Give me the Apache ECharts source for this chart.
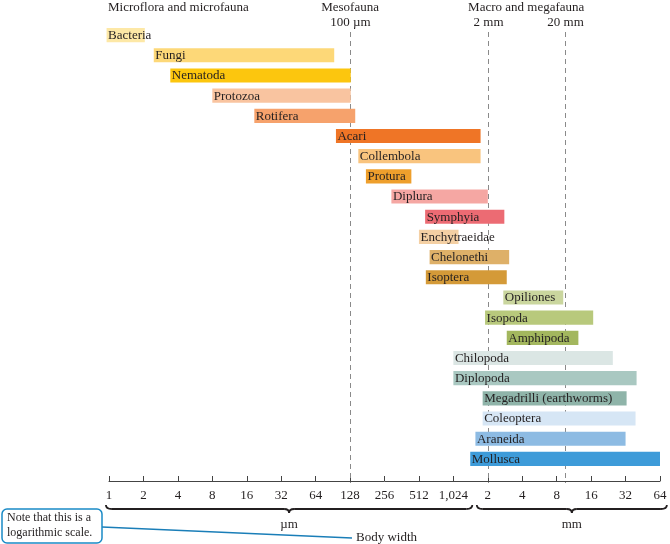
<!DOCTYPE html>
<html><head><meta charset="utf-8">
<script src="https://cdn.jsdelivr.net/npm/echarts@6/dist/echarts.min.js"></script>
<style>html,body{margin:0;padding:0;background:#fff}#c{width:670px;height:544px}</style>
</head><body><div id="c"></div>
<script>
// Taxa (rows, top to bottom)
const taxa = ['Bacteria','Fungi','Nematoda','Protozoa','Rotifera','Acari','Collembola','Protura','Diplura','Symphyia','Enchytraeidae','Chelonethi','Isoptera','Opiliones','Isopoda','Amphipoda','Chilopoda','Diplopoda','Megadrilli (earthworms)','Coleoptera','Araneida','Mollusca'];
// Body-width range, in tick-index units of the log2 scale (0 = 1 µm, 10 = 1,024 µm, 11 = 2 mm, 16 = 64 mm)
const widthFrom = [-0.07,1.30,1.78,3.00,4.22,6.59,7.24,7.46,8.20,9.18,9.00,9.31,9.20,11.45,10.92,11.55,10.00,10.00,10.85,10.85,10.64,10.49];
const widthTo   = [1.04,6.54,7.02,7.02,7.15,10.79,10.79,8.78,11.00,11.48,10.15,11.62,11.55,13.19,14.06,13.63,14.63,15.32,15.03,15.29,15.00,16.00];
// Axis tick labels
const tickLabels = ['1','2','4','8','16','32','64','128','256','512','1,024','2','4','8','16','32','64'];
// Reference lines (class boundaries)
const refValues = [7, 11, 13.23];
const refLabels = ['100 µm','2 mm','20 mm'];
// Bar colours
const colors = ['#fde8a6','#fdd878','#fcc60e','#f9c4a0','#f6a26c','#ef7526','#f9c47e','#ee9f2c','#f5a7a3','#ec6b73','#f4d0a4','#deb068','#d49a38','#cad69e','#b8c97c','#a3b75e','#dbe6e4','#a9c8c1','#8fb4a9','#d6e6f5','#8dbbe3','#3d9bd9'];

const FONT = '13px "Liberation Serif", "DejaVu Serif", serif';
const FONT_S = '12px "Liberation Serif", "DejaVu Serif", serif';
const TXT = '#231f20';

const barData = taxa.map((n,i)=>[i, widthFrom[i], widthTo[i], n]);
const refData = refValues.map((v,i)=>[v, refLabels[i]]);

const chart = echarts.init(document.getElementById('c'), null, {renderer:'canvas'});
chart.setOption({
  animation:false,
  grid:{left:109, right:10, top:25, height:444},
  xAxis:{type:'value', min:0, max:16, interval:1, offset:12,
    splitLine:{show:false},
    axisLine:{show:true, lineStyle:{color:'#444', width:1}},
    axisTick:{show:true, inside:true, length:5, lineStyle:{color:'#444'}},
    axisLabel:{margin:8, color:TXT, fontFamily:'"Liberation Serif", serif', fontSize:13,
      formatter:(v)=>tickLabels[Math.round(v)] ?? ''}
  },
  yAxis:{type:'category', inverse:true, data:taxa, show:false},
  series:[
    {type:'custom', z:1, data:refData, encode:{x:0},
      renderItem:(params, api)=>{
        const cs = params.coordSys;
        const x = Math.round(api.coord([api.value(0), 0])[0]) + 0.5;
        return {type:'group', children:[
          {type:'line', shape:{x1:x, y1:cs.y+7, x2:x, y2:cs.y+cs.height+14},
           style:{stroke:'#8a8a8a', lineWidth:1, lineDash:[5,4]}},
          {type:'text', style:{text:refData[params.dataIndex][1], x:x, y:cs.y-2,
            align:'center', verticalAlign:'middle', font:FONT, fill:TXT}}
        ]};
      }},
    {type:'custom', z:2, data:barData, encode:{x:[1,2], y:0},
      renderItem:(params, api)=>{
        const row = api.value(0);
        const p0 = api.coord([api.value(1), row]);
        const p1 = api.coord([api.value(2), row]);
        const h = api.size([0,1])[1]*0.7;
        return {type:'group', children:[
          {type:'rect', shape:{x:p0[0], y:p0[1]-h/2, width:p1[0]-p0[0], height:h},
           style:{fill:colors[row]}},
          {type:'text', style:{text:taxa[row], x:p0[0]+1.5, y:p0[1]+0.5, verticalAlign:'middle',
            font:FONT, fill:TXT}}
        ]};
      }}
  ]
});

// Decorations: headers, braces, unit labels, callout
const px = (v)=>chart.convertToPixel({xAxisIndex:0}, v);
const xMeso = px(refValues[0]), x2mm = px(refValues[1]), x20 = px(refValues[2]);
const bs = {fill:null, stroke:TXT, lineWidth:1.8};
function brace(a, b, y){
  const m = (a+b)/2;
  return [
    {type:'bezierCurve', shape:{x1:a, y1:y, cpx1:a, cpy1:y+4, x2:a+6, y2:y+4}, style:bs},
    {type:'line', shape:{x1:a+6, y1:y+4, x2:m-5, y2:y+4}, style:bs},
    {type:'bezierCurve', shape:{x1:m-5, y1:y+4, cpx1:m, cpy1:y+4, x2:m, y2:y+8}, style:bs},
    {type:'bezierCurve', shape:{x1:m, y1:y+8, cpx1:m, cpy1:y+4, x2:m+5, y2:y+4}, style:bs},
    {type:'line', shape:{x1:m+5, y1:y+4, x2:b-6, y2:y+4}, style:bs},
    {type:'bezierCurve', shape:{x1:b-6, y1:y+4, cpx1:b, cpy1:y+4, x2:b, y2:y}, style:bs}
  ];
}
const bA = px(-0.09), bB = px(10.55), bC = px(10.68), bD = px(16.2);
const g = [
  {type:'text', x:108, y:8, style:{text:'Microflora and microfauna', font:FONT, fill:TXT, verticalAlign:'middle'}},
  {type:'text', x:xMeso, y:8, style:{text:'Mesofauna', font:FONT, fill:TXT, align:'center', verticalAlign:'middle'}},
  {type:'text', x:(x2mm+x20)/2, y:8, style:{text:'Macro and megafauna', font:FONT, fill:TXT, align:'center', verticalAlign:'middle'}},
  ...brace(bA,bB,505),
  ...brace(bC,bD,505),
  {type:'text', x:(bA+bB)/2, y:525, style:{text:'µm', font:FONT, fill:TXT, align:'center', verticalAlign:'middle'}},
  {type:'text', x:(bC+bD)/2, y:525, style:{text:'mm', font:FONT, fill:TXT, align:'center', verticalAlign:'middle'}},
  {type:'line', shape:{x1:102, y1:527, x2:352, y2:538}, style:{stroke:'#1a7eb8', lineWidth:1.5}},
  {type:'rect', shape:{x:2, y:509, width:100, height:34, r:5}, style:{fill:'#fff', stroke:'#1a8ac6', lineWidth:1.5}},
  {type:'text', x:7, y:518, style:{text:'Note that this is a', font:FONT_S, fill:TXT, verticalAlign:'middle'}},
  {type:'text', x:7, y:533, style:{text:'logarithmic scale.', font:FONT_S, fill:TXT, verticalAlign:'middle'}},
  {type:'text', x:356, y:538, style:{text:'Body width', font:FONT, fill:TXT, verticalAlign:'middle'}}
];
chart.setOption({graphic:{elements:g}});
</script></body></html>
